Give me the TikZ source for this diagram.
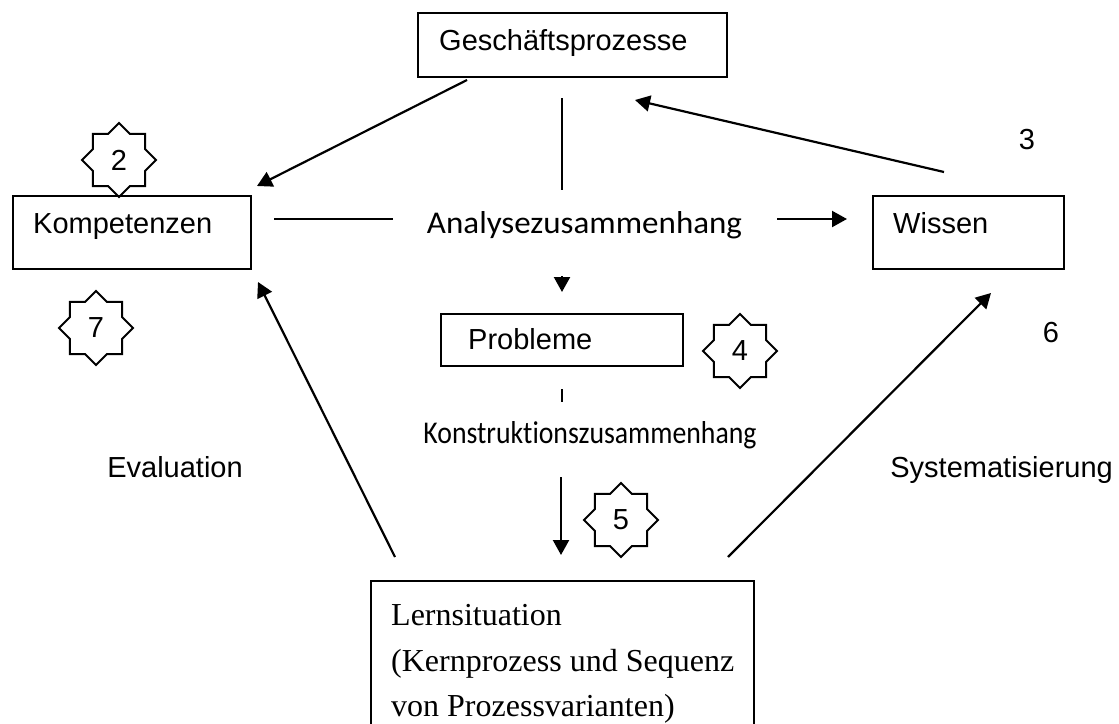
\documentclass[tikz,border=0pt]{standalone}
\usepackage{fontspec}
\setmainfont{Liberation Sans}
\newfontfamily\serifface{Liberation Serif}
\newfontfamily\handface[Ligatures=NoCommon]{Carlito}
\usetikzlibrary{arrows.meta,shapes.geometric}

\tikzset{
  frame/.style={draw, line width=2pt, rectangle, inner sep=0pt, anchor=north west},
  label/.style={anchor=base west, inner sep=0pt, font=\fontsize{29}{35}\selectfont},
  serifline/.style={anchor=base west, inner sep=0pt, font=\serifface\fontsize{32}{46}\selectfont},
  badge/.style={draw, line width=2pt, star, star points=8, star point ratio=1.307,
    minimum size=74pt, inner sep=0pt, font=\fontsize{29}{35}\selectfont},
  link/.style={line width=2.2pt},
  arrow/.style={line width=2.2pt, -{Triangle[width=16pt,length=15pt]}},
  hand/.style={anchor=base, inner sep=0pt},
}

\begin{document}
\begin{tikzpicture}[x=1pt, y=-1pt]
\useasboundingbox (0,0) rectangle (1119,723);

% boxes
\node[frame, minimum width=309pt, minimum height=64pt] (gp) at (417,12) {};
\node[label] (gpT) at (439,50) {Geschäftsprozesse};

\node[frame, minimum width=238pt, minimum height=73pt] (komp) at (12,195) {};
\node[label] (kompT) at (33,233) {Kompetenzen};

\node[frame, minimum width=191pt, minimum height=73pt] (wis) at (872,195) {};
\node[label] (wisT) at (893,233) {Wissen};

\node[frame, minimum width=242pt, minimum height=52pt] (prob) at (440,313) {};
\node[label] (probT) at (468,349) {Probleme};

\node[frame, minimum width=383pt, minimum height=150pt] (lern) at (370,580) {};
\node[serifline] (lernT1) at (391,625) {Lernsituation};
\node[serifline] (lernT2) at (391,671) {(Kernprozess und Sequenz};
\node[serifline] (lernT3) at (391,716) {von Prozessvarianten)};

% handwritten connector labels
\node[hand] (ana) at (584.5,233) {\resizebox{315pt}{22pt}{\handface Analysezusammenhang}};
\node[hand] (kon) at (590,443) {\resizebox{333pt}{22pt}{\handface Konstruktionszusammenhang}};

% numbered badges
\node[badge] (s2) at (119,160) {2};
\node[badge] (s7) at (96,328) {7};
\node[badge] (s4) at (740,351) {4};
\node[badge] (s5) at (621,520) {5};

% loose numbers and side labels
\node[label, anchor=base] (n3) at (1027,149) {3};
\node[label, anchor=base] (n6) at (1051,342) {6};
\node[label, anchor=base] (ev) at (175,477) {Evaluation};
\node[label, anchor=base east] (sys) at (1113,477) {Systematisierung};

% connector end points
\coordinate (gpL) at (467,80);
\coordinate (kompTR) at (257,186);
\coordinate (wisTop) at (944,172);
\coordinate (gpR) at (635,100);
\coordinate (lernL) at (395,557);
\coordinate (kompBR) at (258,282);
\coordinate (lernR) at (728,557);
\coordinate (wisB) at (991,293);
\coordinate (gpB) at (562,98);
\coordinate (anaT) at (562,190);
\coordinate (kompR) at (274,219);
\coordinate (anaL) at (393,219);
\coordinate (anaR) at (777,219);
\coordinate (wisL) at (847,219);
\coordinate (tipA) at (562,276);
\coordinate (tipB) at (562,292);
\coordinate (probB1) at (562,389);
\coordinate (probB2) at (562,402);
\coordinate (konB) at (561,477);
\coordinate (lernT) at (561,555);

% connectors
\draw[arrow] (gpL) -- (kompTR);
\draw[arrow] (wisTop) -- (gpR);
\draw[arrow] (lernL) -- (kompBR);
\draw[arrow] (lernR) -- (wisB);
\draw[link] (gpB) -- (anaT);
\draw[link] (kompR) -- (anaL);
\draw[arrow] (anaR) -- (wisL);
\draw[arrow] (tipA) -- (tipB);
\draw[link] (probB1) -- (probB2);
\draw[arrow] (konB) -- (lernT);
\end{tikzpicture}
\end{document}
